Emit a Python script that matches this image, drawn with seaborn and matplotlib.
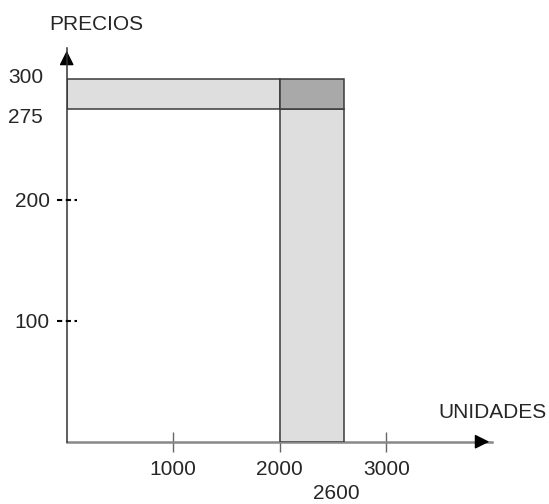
import matplotlib
matplotlib.use("Agg")
import matplotlib.pyplot as plt
import matplotlib.transforms as mtransforms
import seaborn as sns

# chart values
x_ticks = [1000, 2000, 3000]
y_ticks = [100, 200]
precio_alto = 300
precio_bajo = 275
unidades_ini = 2000
unidades_fin = 2600

# rectangles: (x start, x end, y start, y end, colour)
rects = [
    (0, unidades_ini, precio_bajo, precio_alto, "#dedede"),
    (unidades_ini, unidades_fin, 0, precio_bajo, "#dedede"),
    (unidades_ini, unidades_fin, precio_bajo, precio_alto, "#a9a9a9"),
]

sns.set_theme(style="white")
plt.rcParams["font.family"] = ["Liberation Sans", "DejaVu Sans"]

fig = plt.figure(figsize=(5.49, 5.04), dpi=100)
ax = fig.add_axes([0.1215, 0.1236, 0.7747, 0.7811])

for x0, x1, y0, y1, col in rects:
    ax.bar(x0, y1 - y0, width=x1 - x0, bottom=y0, align="edge",
           color=col, edgecolor="#3a3a3a", linewidth=1.1, zorder=2)

ax.set_xlim(0, 3993)
ax.set_ylim(0, 325.6)

# spines / arrows
for s in ["top", "right"]:
    ax.spines[s].set_visible(False)
ax.spines["left"].set_color("#333333")
ax.spines["left"].set_linewidth(1.1)
ax.spines["bottom"].set_color("#888888")
ax.spines["bottom"].set_linewidth(1.8)
ax.spines["left"].set_zorder(3)
ax.spines["bottom"].set_zorder(1)

arrow = dict(arrowstyle="-|>", color="black", lw=1, mutation_scale=22)
ax.annotate("", xy=(1, 0), xytext=(0.96, 0), xycoords="axes fraction", arrowprops=arrow)
ax.annotate("", xy=(0, 1), xytext=(0, 0.96), xycoords="axes fraction", arrowprops=arrow)

# x ticks
ax.set_xticks(x_ticks)
ax.set_xticklabels([str(v) for v in x_ticks], fontsize=15)
ax.tick_params(axis="x", direction="inout", length=14.4, width=1,
               color="#666666", pad=6, bottom=True)

# y ticks with dashed marks crossing the axis
ax.set_yticks(y_ticks)
ax.set_yticklabels([str(v) for v in y_ticks], fontsize=15)
ax.tick_params(axis="y", length=0, pad=12.2)
blend = mtransforms.blended_transform_factory(ax.transAxes, ax.transData)
for v in y_ticks:
    ax.plot([-0.0235, 0.0235], [v, v], transform=blend, color="black",
            lw=1.5, linestyle=(0, (2.5, 1.7)), clip_on=False, zorder=4)

# labels for 300 and 275
ax.annotate(str(precio_alto), xy=(0, precio_alto), xycoords=blend,
            xytext=(-17, 1), textcoords="offset points",
            ha="right", va="center", fontsize=15)
ax.annotate(str(precio_bajo), xy=(0, precio_bajo), xycoords=blend,
            xytext=(-17, -6), textcoords="offset points",
            ha="right", va="center", fontsize=15)

# 2600 label below
blend_x = mtransforms.blended_transform_factory(ax.transData, ax.transAxes)
ax.annotate(str(unidades_fin), xy=(unidades_fin, 0), xycoords=blend_x,
            xytext=(-5, -37), textcoords="offset points",
            ha="center", va="center", fontsize=15)

fig.text(96 / 549, 1 - 24 / 504, "PRECIOS", ha="center", va="center", fontsize=15)
fig.text(492 / 549, 1 - 413 / 504, "UNIDADES", ha="center", va="center", fontsize=15)

fig.savefig("out.png", dpi=100)
